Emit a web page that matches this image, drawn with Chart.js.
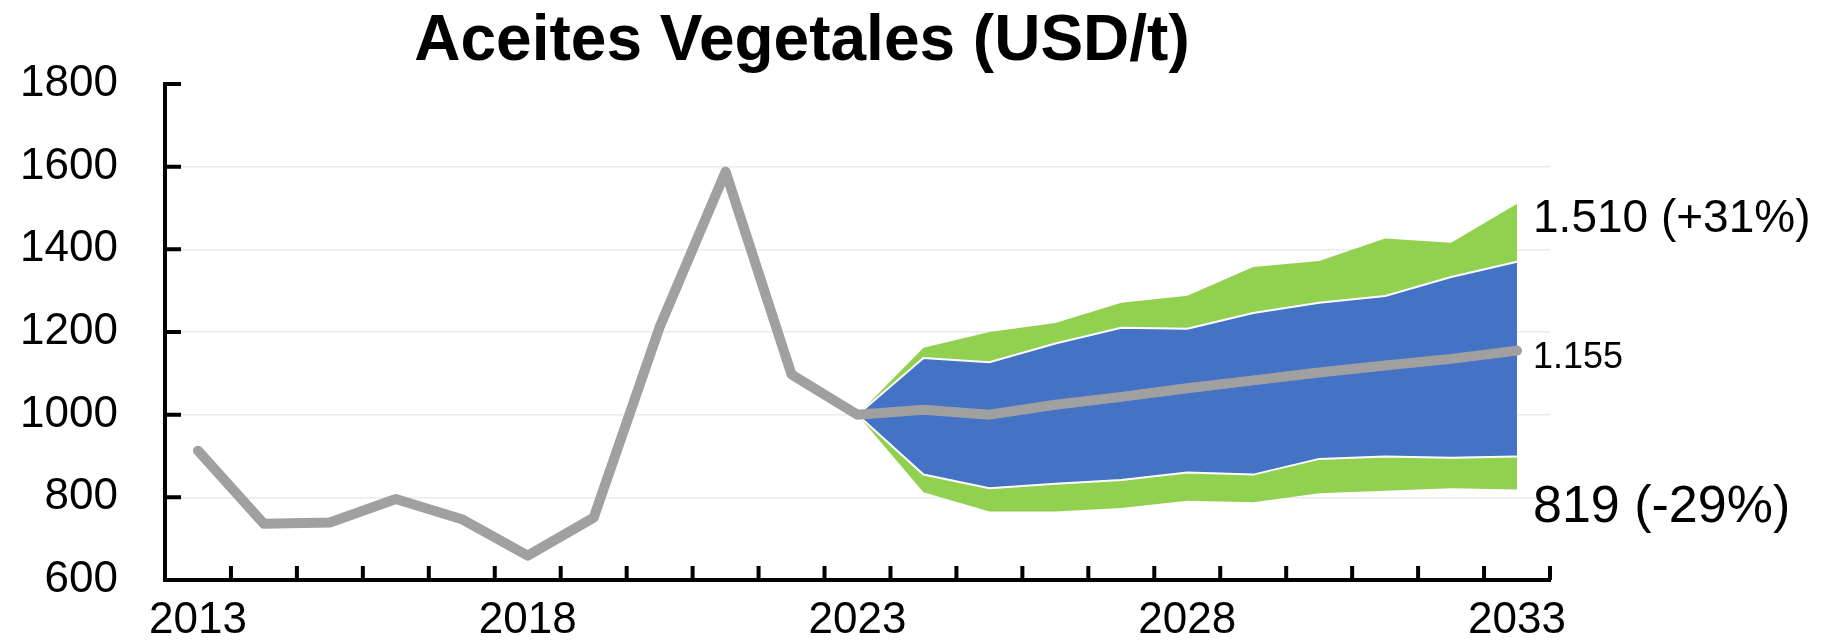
<!DOCTYPE html>
<html>
<head>
<meta charset="utf-8">
<script src="https://cdn.jsdelivr.net/npm/chart.js@4.4.0/dist/chart.umd.min.js"></script>
<style>
    html, body { margin: 0; padding: 0; background: #fff; }
</style>
</head>
<body>
<canvas id="oil-chart" width="1829" height="642"></canvas>
<script>
// Years on the x axis, only some of them get a label
const years = [2013, 2014, 2015, 2016, 2017, 2018, 2019, 2020, 2021, 2022, 2023,
               2024, 2025, 2026, 2027, 2028, 2029, 2030, 2031, 2032, 2033];
const labelledYears = [2013, 2018, 2023, 2028, 2033];
const yTicks = [600, 800, 1000, 1200, 1400, 1600, 1800];

// Gray line: history 2013-2023 and baseline 2024-2033
const historyPrices = [913, 736, 739, 796, 747, 659, 751, 1212, 1588, 1097, 1000];
const baselinePrices = [1012, 1000, 1024, 1043, 1064, 1083, 1102, 1119, 1135, 1155];

// Fan, 2023-2033
const greenLow  = [1000, 812, 766, 766, 774, 792, 788, 810, 816, 822, 819];
const blueLow   = [1000, 855, 822, 833, 842, 860, 855, 893, 899, 896, 899];
const blueHigh  = [1000, 1137, 1127, 1172, 1210, 1208, 1246, 1271, 1287, 1333, 1370];
const greenHigh = [1000, 1162, 1200, 1222, 1271, 1288, 1357, 1372, 1426, 1416, 1510];

// Labels at the end of the lines
const endLabels = ['1.510 (+31%)', '1.155', '819 (-29%)'];

const FONT = '"Liberation Sans", Arial, sans-serif';
Chart.defaults.font.family = FONT;
Chart.defaults.color = '#000';

// fan only starts in 2023
const lead = new Array(10).fill(null);

// inward tick marks on both axes
const innerTicks = {
    id: 'innerTicks',
    afterDraw(chart) {
        const { ctx, scales: { x, y } } = chart;
        ctx.save();
        ctx.strokeStyle = '#000';
        ctx.lineWidth = 4;
        ctx.beginPath();
        y.ticks.forEach(t => {
            const py = y.getPixelForValue(t.value);
            ctx.moveTo(x.left, py);
            ctx.lineTo(x.left + 16, py);
        });
        const step = x.getPixelForValue(1) - x.getPixelForValue(0);
        for (let i = 0; i < years.length; i++) {
            const px = x.getPixelForValue(i) + step / 2;
            ctx.moveTo(px, y.bottom);
            ctx.lineTo(px, y.bottom - 14);
        }
        ctx.stroke();
        ctx.restore();
    }
};

// title and the three end labels
const texts = {
    id: 'texts',
    afterDraw(chart) {
        const { ctx, scales: { x, y } } = chart;
        ctx.save();
        ctx.fillStyle = '#000';
        ctx.textBaseline = 'middle';
        ctx.textAlign = 'center';
        ctx.font = 'bold 64px ' + FONT;
        ctx.fillText('Aceites Vegetales (USD/t)', 802, 42);

        ctx.textAlign = 'left';
        const last = years.length - 1;
        const lx = x.getPixelForValue(last) + 16;
        ctx.font = '46px ' + FONT;
        ctx.fillText(endLabels[0], lx, y.getPixelForValue(greenHigh[greenHigh.length - 1]) + 15);
        ctx.font = '36px ' + FONT;
        ctx.fillText(endLabels[1], lx, y.getPixelForValue(baselinePrices[baselinePrices.length - 1]) + 7);
        ctx.font = '52px ' + FONT;
        ctx.fillText(endLabels[2], lx, y.getPixelForValue(greenLow[greenLow.length - 1]) + 18);
        ctx.restore();
    }
};

const oilChart = new Chart(document.querySelector('#oil-chart'), {
    type: 'line',
    data: {
        labels: years.map(String),
        datasets: [{
            label: 'Precio',
            data: historyPrices.concat(baselinePrices),
            borderColor: '#a0a0a0',
            borderWidth: 10,
            borderCapStyle: 'round',
            borderJoinStyle: 'round',
            fill: false
        }, {
            label: 'Mínimo',
            data: lead.concat(greenLow),
            borderWidth: 0,
            borderColor: 'rgba(0,0,0,0)',
            fill: false
        }, {
            label: 'Banda inferior',
            data: lead.concat(blueLow),
            borderColor: '#ffffff',
            borderWidth: 2,
            backgroundColor: '#92d050',
            fill: '-1'
        }, {
            label: 'Banda central',
            data: lead.concat(blueHigh),
            borderColor: '#ffffff',
            borderWidth: 2,
            backgroundColor: '#4472c4',
            fill: '-1'
        }, {
            label: 'Máximo',
            data: lead.concat(greenHigh),
            borderWidth: 0,
            borderColor: 'rgba(0,0,0,0)',
            backgroundColor: '#92d050',
            fill: '-1'
        }]
    },
    options: {
        responsive: false,
        animation: false,
        devicePixelRatio: 1,
        elements: {
            point: { radius: 0, hoverRadius: 0 },
            line: { tension: 0 }
        },
        layout: {
            padding: { top: 84, right: 279, left: 0, bottom: 0 }
        },
        plugins: {
            legend: { display: false },
            tooltip: { enabled: false }
        },
        scales: {
            x: {
                type: 'category',
                offset: true,
                grid: { display: false, drawTicks: false },
                border: { display: true, color: '#000', width: 4 },
                ticks: {
                    autoSkip: false,
                    maxRotation: 0,
                    padding: 14,
                    font: { size: 44 },
                    callback: (v, i) => labelledYears.includes(years[i]) ? String(years[i]) : ''
                },
                afterFit: s => { s.height = 62; }
            },
            y: {
                min: 600,
                max: 1800,
                grid: {
                    drawTicks: false,
                    lineWidth: 1.5,
                    color: c => (c.tick && (c.tick.value === 600 || c.tick.value === 1800)) ? 'rgba(0,0,0,0)' : '#ebebeb'
                },
                border: { display: true, color: '#000', width: 4 },
                afterBuildTicks: s => { s.ticks = yTicks.map(v => ({ value: v })); },
                ticks: {
                    padding: 47,
                    font: { size: 44 },
                    callback: v => String(v)
                },
                // the big label padding should not push the plot area in
                afterFit: s => { s.width = 165; s.paddingTop = 30; s.paddingBottom = 0; }
            }
        }
    },
    plugins: [innerTicks, texts]
});
</script>
</body>
</html>
